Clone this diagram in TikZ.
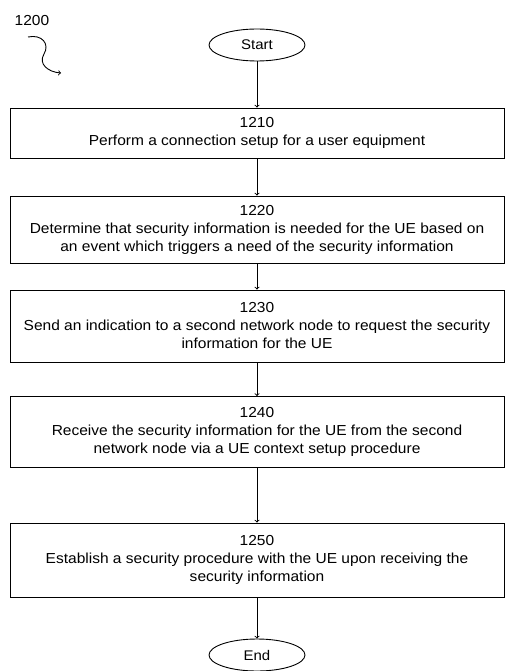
\documentclass[tikz,border=0pt]{standalone}
\usepackage{fontspec}
\setmainfont[FakeStretch=1.07]{Liberation Sans}
\usetikzlibrary{shapes.geometric}
\tikzset{
  stepbox/.style={draw, line width=0.9pt, minimum width=494pt,
    align=center, inner sep=2pt, font=\fontsize{14.5}{18}\selectfont},
  terminal/.style={draw, ellipse, line width=0.9pt, minimum width=96pt,
    minimum height=32pt, inner sep=1pt, font=\fontsize{14}{16}\selectfont},
}
\begin{document}
\begin{tikzpicture}[x=1pt, y=-1pt]
  \useasboundingbox (0,0) rectangle (506,671);
  \draw
    (257,45) node[terminal] (start){Start}
    (257,133) node[stepbox, minimum height=50pt] (1210){1210\\Perform a connection setup for a user equipment}
    (257,229.5) node[stepbox, minimum height=67pt] (1220){1220\\Determine that security information is needed for the UE based on\\an event which triggers a need of the security information}
    (257,326) node[stepbox, minimum height=72pt] (1230){1230\\Send an indication to a second network node to request the security\\information for the UE}
    (257,432) node[stepbox, minimum height=71pt] (1240){1240\\Receive the security information for the UE from the second\\network node via a UE context setup procedure}
    (257,560) node[stepbox, minimum height=74pt] (1250){1250\\Establish a security procedure with the UE upon receiving the\\security information}
    (257,655) node[terminal] (end){End}
    (32,21) node[font=\fontsize{14.5}{16}\selectfont] (1200){1200};
  \begin{scope}[->, line width=0.9pt]
    \draw (start) to (1210);
    \draw (1210) to (1220);
    \draw (1220) to (1230);
    \draw (1230) to (1240);
    \draw (1240) to (1250);
    \draw (1250) to (end);
    \draw (28,37) .. controls (42,34) and (50,44) .. (44,54)
      .. controls (38,64) and (48,72) .. (61,73);
  \end{scope}
\end{tikzpicture}
\end{document}
